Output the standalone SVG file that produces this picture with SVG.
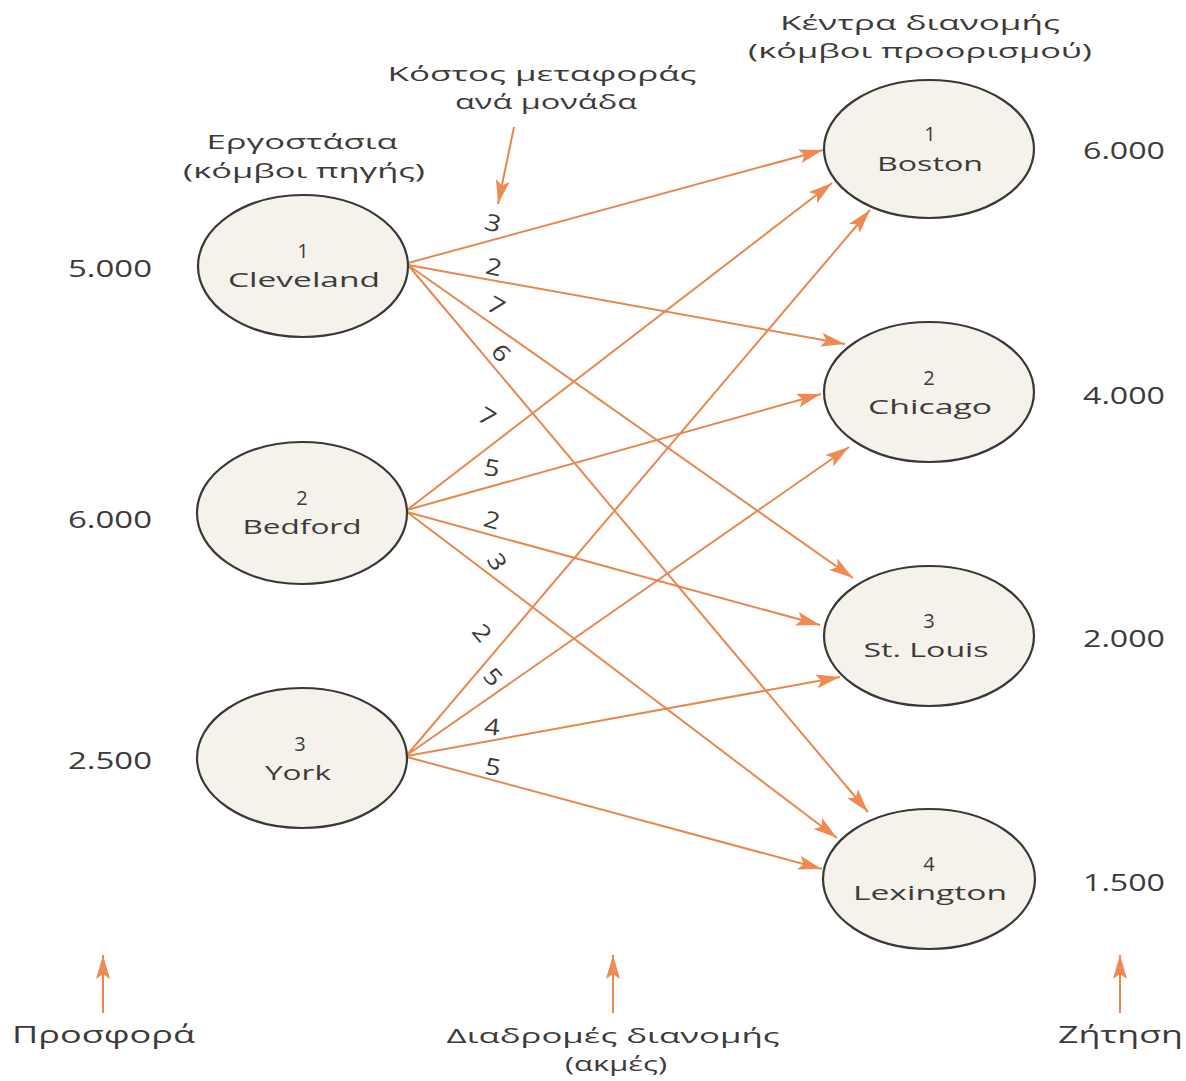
<svg xmlns="http://www.w3.org/2000/svg" width="1186" height="1081" viewBox="0 0 1186 1081">
<style>
text{font-family:"Open Sans","Noto Sans","DejaVu Sans",sans-serif;fill:#3d3b39;font-size:23px}
.m{text-anchor:middle}
.s{font-size:20px}
.node{fill:#F5F2EC;stroke:#3a3836;stroke-width:2.2}
.edge{stroke:#E8874F;stroke-width:2;fill:none}
.cost{font-size:23px;text-anchor:middle}
</style>
<defs>
<marker id="ah" markerUnits="userSpaceOnUse" markerWidth="26" markerHeight="15" refX="24" refY="7" orient="auto">
<path d="M0,0 L24,7 L0,14 L5,7 z" fill="#EE8A52"/>
</marker>
</defs>
<rect width="1186" height="1081" fill="#ffffff"/>

<g id="headers">
<text class="m s" x="920" y="30" textLength="280" lengthAdjust="spacingAndGlyphs">Κέντρα διανομής</text>
<text class="m s" x="920" y="58" textLength="344" lengthAdjust="spacingAndGlyphs">(κόμβοι προορισμού)</text>
<text class="m s" x="542" y="81" textLength="309" lengthAdjust="spacingAndGlyphs">Κόστος μεταφοράς</text>
<text class="m s" x="546" y="109" textLength="182" lengthAdjust="spacingAndGlyphs">ανά μονάδα</text>
<text class="m s" x="302" y="149" textLength="191" lengthAdjust="spacingAndGlyphs">Εργοστάσια</text>
<text class="m s" x="304" y="178" textLength="242" lengthAdjust="spacingAndGlyphs">(κόμβοι πηγής)</text>
</g>

<g id="connectors">
<line class="edge" x1="514" y1="127" x2="498" y2="204" marker-end="url(#ah)"/>
<line class="edge" x1="408" y1="263" x2="823" y2="150" marker-end="url(#ah)"/>
<line class="edge" x1="408" y1="265" x2="845" y2="344" marker-end="url(#ah)"/>
<line class="edge" x1="408" y1="265" x2="853" y2="578" marker-end="url(#ah)"/>
<line class="edge" x1="408" y1="265" x2="868" y2="812" marker-end="url(#ah)"/>
<line class="edge" x1="407" y1="510" x2="832" y2="183" marker-end="url(#ah)"/>
<line class="edge" x1="407" y1="510" x2="821" y2="394" marker-end="url(#ah)"/>
<line class="edge" x1="407" y1="512" x2="820" y2="625" marker-end="url(#ah)"/>
<line class="edge" x1="407" y1="512" x2="837" y2="838" marker-end="url(#ah)"/>
<line class="edge" x1="407" y1="755" x2="870" y2="210" marker-end="url(#ah)"/>
<line class="edge" x1="407" y1="755" x2="849" y2="447" marker-end="url(#ah)"/>
<line class="edge" x1="407" y1="756" x2="840" y2="677" marker-end="url(#ah)"/>
<line class="edge" x1="407" y1="757" x2="822" y2="869" marker-end="url(#ah)"/>
<line class="edge" x1="103" y1="1013" x2="103" y2="955" marker-end="url(#ah)"/>
<line class="edge" x1="613" y1="1013" x2="613" y2="955" marker-end="url(#ah)"/>
<line class="edge" x1="1120" y1="1013" x2="1120" y2="955" marker-end="url(#ah)"/>
</g>

<g id="costs">
<text class="cost" transform="translate(493,223) rotate(15) scale(1.2,1)" y="8">3</text>
<text class="cost" transform="translate(494,267) rotate(12) scale(1.2,1)" y="8">2</text>
<text class="cost" transform="translate(496,306) rotate(30) scale(1.2,1)" y="8">7</text>
<text class="cost" transform="translate(501,353) rotate(50) scale(1.2,1)" y="8">6</text>
<text class="cost" transform="translate(487,417) rotate(32) scale(1.2,1)" y="8">7</text>
<text class="cost" transform="translate(492,468) rotate(10) scale(1.2,1)" y="8">5</text>
<text class="cost" transform="translate(492,520) rotate(15) scale(1.2,1)" y="8">2</text>
<text class="cost" transform="translate(497,562) rotate(58) scale(1.2,1)" y="8">3</text>
<text class="cost" transform="translate(482,633) rotate(50) scale(1.2,1)" y="8">2</text>
<text class="cost" transform="translate(493,677) rotate(48) scale(1.2,1)" y="8">5</text>
<text class="cost" transform="translate(492,727) rotate(5) scale(1.2,1)" y="8">4</text>
<text class="cost" transform="translate(493,767) rotate(10) scale(1.2,1)" y="8">5</text>
</g>

<g id="cleveland">
<ellipse class="node" cx="303" cy="266" rx="105" ry="71"/>
<text class="m s" x="303" y="258">1</text>
<text class="m s" x="304" y="287" textLength="152" lengthAdjust="spacingAndGlyphs">Cleveland</text>
</g>
<g id="bedford">
<ellipse class="node" cx="302" cy="513" rx="105" ry="71"/>
<text class="m s" x="302" y="505">2</text>
<text class="m s" x="302" y="534" textLength="119" lengthAdjust="spacingAndGlyphs">Bedford</text>
</g>
<g id="york">
<ellipse class="node" cx="302" cy="758" rx="105" ry="70"/>
<text class="m s" x="300" y="751">3</text>
<text class="m s" x="298" y="780" textLength="66" lengthAdjust="spacingAndGlyphs">York</text>
</g>
<g id="boston">
<ellipse class="node" cx="929" cy="149" rx="105" ry="69"/>
<text class="m s" x="930" y="141">1</text>
<text class="m s" x="930" y="171" textLength="106" lengthAdjust="spacingAndGlyphs">Boston</text>
</g>
<g id="chicago">
<ellipse class="node" cx="929" cy="392" rx="105" ry="70"/>
<text class="m s" x="929" y="385">2</text>
<text class="m s" x="930" y="414" textLength="124" lengthAdjust="spacingAndGlyphs">Chicago</text>
</g>
<g id="stlouis">
<ellipse class="node" cx="929" cy="636" rx="105" ry="70"/>
<text class="m s" x="929" y="628">3</text>
<text class="m s" x="926" y="657" textLength="125" lengthAdjust="spacingAndGlyphs">St. Louis</text>
</g>
<g id="lexington">
<ellipse class="node" cx="929" cy="879" rx="106" ry="70"/>
<text class="m s" x="929" y="871">4</text>
<text class="m s" x="930" y="900" textLength="154" lengthAdjust="spacingAndGlyphs">Lexington</text>
</g>

<g id="quantities">
<text x="68" y="277" textLength="84" lengthAdjust="spacingAndGlyphs">5.000</text>
<text x="68" y="528" textLength="84" lengthAdjust="spacingAndGlyphs">6.000</text>
<text x="68" y="769" textLength="84" lengthAdjust="spacingAndGlyphs">2.500</text>
<text x="1083" y="159" textLength="82" lengthAdjust="spacingAndGlyphs">6.000</text>
<text x="1083" y="404" textLength="82" lengthAdjust="spacingAndGlyphs">4.000</text>
<text x="1083" y="647" textLength="82" lengthAdjust="spacingAndGlyphs">2.000</text>
<text x="1083" y="891" textLength="82" lengthAdjust="spacingAndGlyphs">1.500</text>
</g>

<g id="footer">
<text x="12" y="1043" textLength="183" lengthAdjust="spacingAndGlyphs">Προσφορά</text>
<text class="m s" x="613" y="1043" textLength="333" lengthAdjust="spacingAndGlyphs">Διαδρομές διανομής</text>
<text class="m s" x="616" y="1071" textLength="102" lengthAdjust="spacingAndGlyphs">(ακμές)</text>
<text x="1058" y="1043" textLength="125" lengthAdjust="spacingAndGlyphs">Ζήτηση</text>
</g>
</svg>
